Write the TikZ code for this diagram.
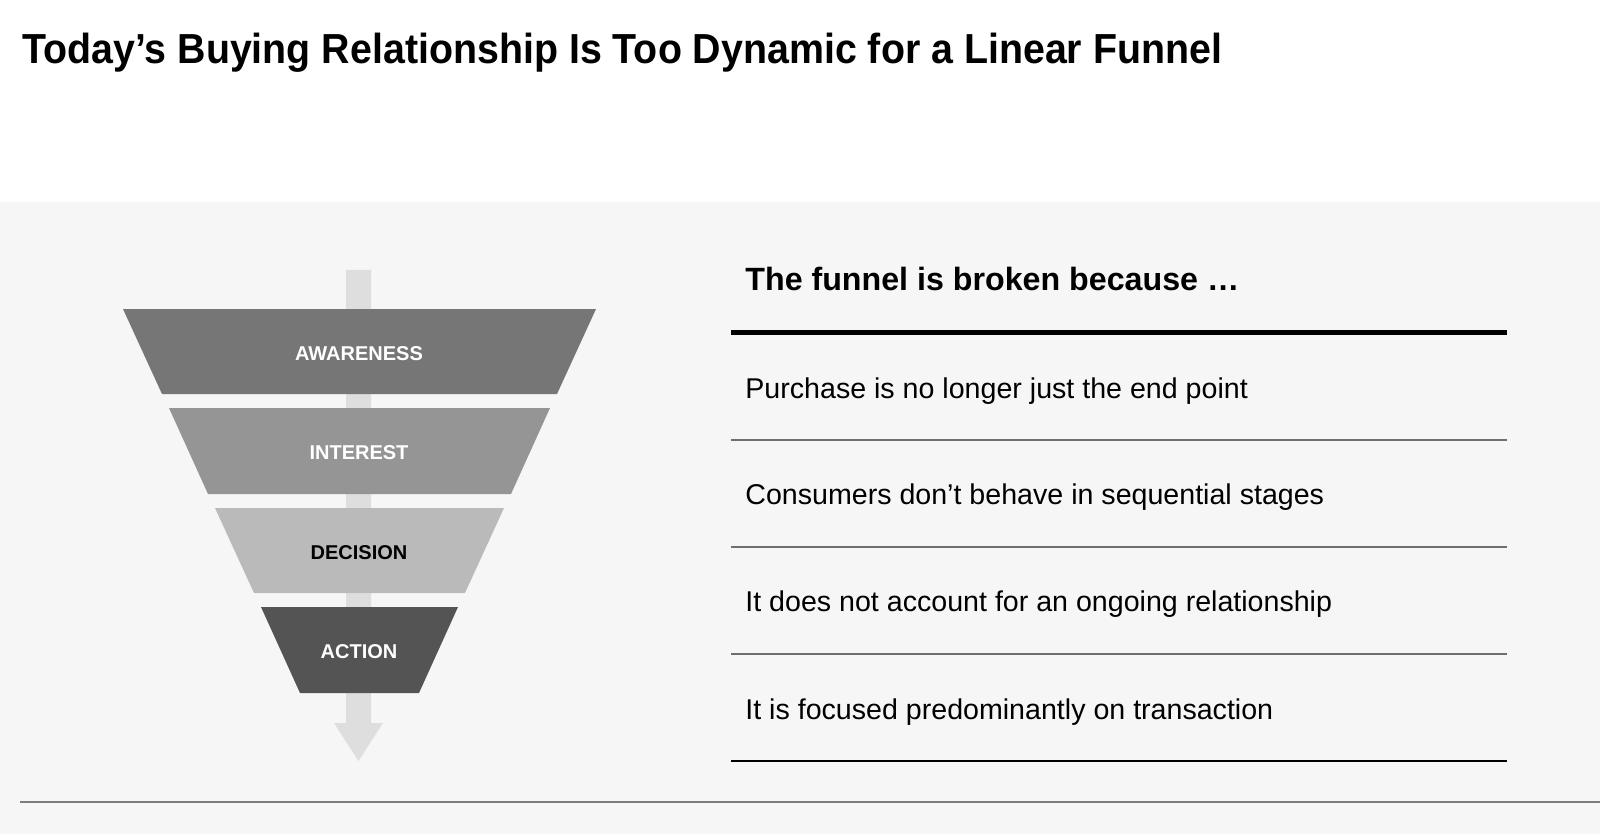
\documentclass[tikz,border=0pt]{standalone}
\usepackage{fontspec}
\setmainfont{Liberation Sans}
\definecolor{bgband}{HTML}{F6F6F6}
\definecolor{arrowgrey}{HTML}{DEDEDE}
\definecolor{cAware}{HTML}{767676}
\definecolor{cInter}{HTML}{959595}
\definecolor{cDecis}{HTML}{BABABA}
\definecolor{cAction}{HTML}{545454}
\definecolor{rulegrey}{HTML}{6E6E6E}
\tikzset{
  stagelabel/.style={font=\fontsize{10pt}{12pt}\selectfont\bfseries, inner sep=0pt, anchor=center},
  itemtext/.style={font=\fontsize{14.3pt}{16pt}\selectfont, inner sep=0pt, anchor=base west, text=black},
  thinrule/.style={draw=rulegrey, line width=0.7pt},
}
\begin{document}
\begin{tikzpicture}[x=0.5pt,y=-0.5pt]
\useasboundingbox (0,0) rectangle (1600,834);
\fill[white] (0,0) rectangle (1600,834);
\fill[bgband] (0,202) rectangle (1600,834);
% title
\node[anchor=base west, inner sep=0pt] (title) at (22,64)
  {\scalebox{0.937}[1]{\fontsize{21pt}{24pt}\selectfont\bfseries Today’s Buying Relationship Is Too Dynamic for a Linear Funnel}};
% arrow
\fill[arrowgrey] (346,270) -- (371,270) -- (371,723) -- (383,723) -- (358.5,761) -- (334,723) -- (346,723) -- cycle;
% funnel
\fill[cAware] (123,309) -- (596,309) -- (557,394) -- (162,394) -- cycle;
\fill[cInter] (169,408) -- (550,408) -- (511,494) -- (208,494) -- cycle;
\fill[cDecis] (215,508) -- (504,508) -- (465,593) -- (254,593) -- cycle;
\fill[cAction] (261,607) -- (458,607) -- (419,693) -- (300,693) -- cycle;
\node[stagelabel, text=white] (aw) at (359,354) {AWARENESS};
\node[stagelabel, text=white] (in) at (359,453) {INTEREST};
\node[stagelabel, text=black] (de) at (359,553) {DECISION};
\node[stagelabel, text=white] (ac) at (359,652) {ACTION};
% right list
\node[anchor=base west, inner sep=0pt, font=\fontsize{16.1pt}{18pt}\selectfont\bfseries] (head) at (745,291) {The funnel is broken because …};
\draw[line width=2.5pt, black] (731,332) -- (1507,332);
\node[itemtext] (i1) at (745,398) {Purchase is no longer just the end point};
\draw[thinrule] (731,440) -- (1507,440);
\node[itemtext] (i2) at (745,504) {Consumers don’t behave in sequential stages};
\draw[thinrule] (731,547) -- (1507,547);
\node[itemtext] (i3) at (745,611) {It does not account for an ongoing relationship};
\draw[thinrule] (731,654) -- (1507,654);
\node[itemtext] (i4) at (745,719) {It is focused predominantly on transaction};
\draw[line width=1pt, black] (731,761) -- (1507,761);
% bottom rule
\draw[line width=1pt, color=rulegrey!90] (20,802) -- (1600,802);
\end{tikzpicture}
\end{document}
